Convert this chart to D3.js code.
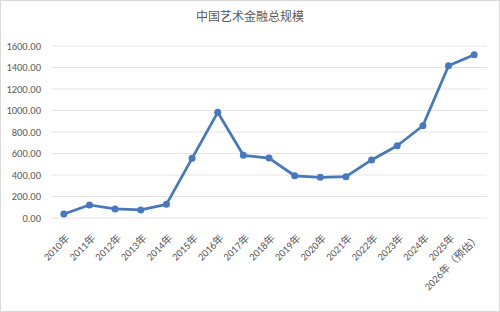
<!DOCTYPE html>
<html>
<head>
<meta charset="utf-8">
<script src="https://cdn.jsdelivr.net/npm/d3@7"></script>
<style>
  body { margin: 0; background: #fff; }
  svg { display: block; }
</style>
</head>
<body>
<svg id="chart" width="500" height="312"></svg>
<script>
const years = ["2010年","2011年","2012年","2013年","2014年","2015年","2016年","2017年","2018年",
  "2019年","2020年","2021年","2022年","2023年","2024年","2025年","2026年（预估）"]
const values = [37, 121, 84, 75, 127, 555, 983, 583, 558, 393, 378, 384, 540, 672, 858, 1416, 1519]
const yTicks = [0, 200, 400, 600, 800, 1000, 1200, 1400, 1600]

const W = 500, H = 312
const margin = {left: 51, right: 13, top: 46, bottom: 94}

const svg = d3.select("#chart")
const font = "Calibri, 'Liberation Sans', 'Noto Sans CJK SC', sans-serif"

svg.append("rect")
  .attr("x", 0.5).attr("y", 0.5)
  .attr("width", W - 1).attr("height", H - 1)
  .attr("fill", "#fff").attr("stroke", "#d9d9d9")

const x = d3.scaleBand()
  .domain(years)
  .range([margin.left, W - margin.right])

const y = d3.scaleLinear()
  .domain([0, 1600])
  .range([H - margin.bottom, margin.top])

// gridlines
svg.append("g")
  .selectAll("line")
  .data(yTicks)
  .join("line")
  .attr("x1", margin.left).attr("x2", W - margin.right)
  .attr("y1", d => y(d)).attr("y2", d => y(d))
  .attr("stroke", "#e4e4e4").attr("stroke-width", 1)

// y axis labels
const yAxis = svg.append("g")
  .attr("transform", `translate(${margin.left - 7},0)`)
  .call(d3.axisLeft(y).tickValues(yTicks).tickSize(0).tickFormat(d => d.toFixed(2)))
yAxis.select(".domain").remove()
yAxis.selectAll("text")
  .attr("font-family", font).attr("font-size", 10.5).attr("fill", "#595959")

// x axis labels, rotated
const xAxis = svg.append("g")
  .attr("transform", `translate(0,${H - margin.bottom})`)
  .call(d3.axisBottom(x).tickSize(0))
xAxis.select(".domain").remove()
xAxis.selectAll("text")
  .attr("font-family", font).attr("font-size", 10.5).attr("fill", "#595959")
  .attr("text-anchor", "end")
  .attr("dy", "0.35em")
  .attr("transform", "translate(2,16) rotate(-45)")

// title
svg.append("text")
  .attr("x", W / 2).attr("y", 21)
  .attr("text-anchor", "middle")
  .attr("font-family", "'Noto Sans CJK SC', sans-serif")
  .attr("font-size", 12).attr("fill", "#595959")
  .text("中国艺术金融总规模")

const line = d3.line()
  .x((d, i) => x(years[i]) + x.bandwidth() / 2)
  .y(d => y(d))

svg.append("path")
  .datum(values)
  .attr("d", line)
  .attr("fill", "none")
  .attr("stroke", "#4777bd")
  .attr("stroke-width", 2.75)
  .attr("stroke-linejoin", "round")

svg.append("g")
  .selectAll("circle")
  .data(values)
  .join("circle")
  .attr("cx", (d, i) => x(years[i]) + x.bandwidth() / 2)
  .attr("cy", d => y(d))
  .attr("r", 3.5)
  .attr("fill", "#4777bd")
</script>
</body>
</html>
